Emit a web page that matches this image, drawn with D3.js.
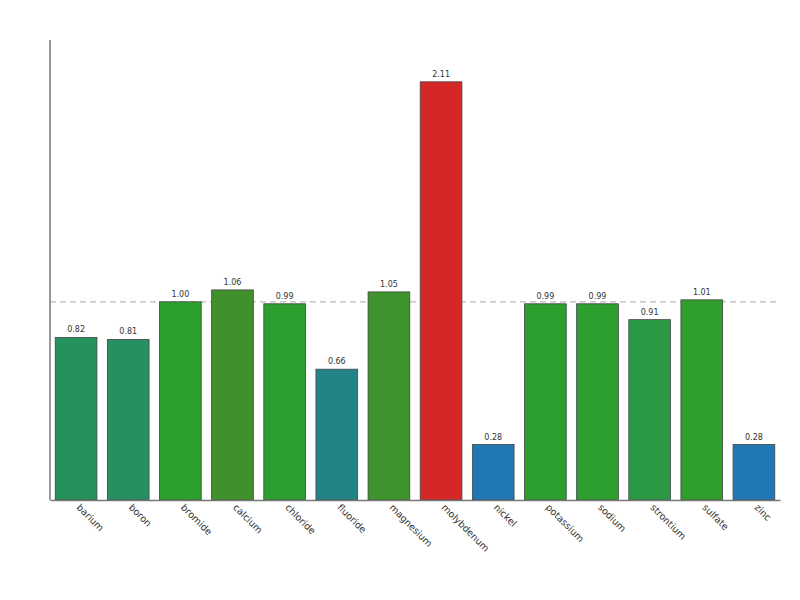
<!DOCTYPE html>
<html>
<head>
<meta charset="utf-8">
<script src="https://cdn.jsdelivr.net/npm/d3@7"></script>
<style>
  body { margin: 0; background: #fff; }
  text { font-family: "DejaVu Sans", sans-serif; fill: #333; }
</style>
</head>
<body>
<svg id="chart" width="800" height="600"></svg>
<script>
var categories = ["barium", "boron", "bromide", "calcium", "chloride", "fluoride", "magnesium",
                  "molybdenum", "nickel", "potassium", "sodium", "strontium", "sulfate", "zinc"];
var values = [0.82, 0.81, 1.00, 1.06, 0.99, 0.66, 1.05, 2.11, 0.28, 0.99, 0.99, 0.91, 1.01, 0.28];
var refValue = 1.0;

var svg = d3.select("#chart"),
    margin = {top: 40, right: 20, bottom: 100, left: 50},
    width = 800 - margin.left - margin.right,
    height = 600 - margin.top - margin.bottom,
    g = svg.append("g")
      .attr("transform", "translate(" + margin.left + "," + margin.top + ")");

var x = d3.scaleBand()
    .domain(categories)
    .range([0, width])
    .paddingInner(0.2)
    .paddingOuter(0.1);

var y = d3.scaleLinear()
    .domain([0, d3.max(values) * 1.1])
    .range([height, 0]);

// blue below 1, green at 1, red above
var color = d3.scaleLinear()
    .domain([0.5, 1, 1.5])
    .range(["#1f77b4", "#2ca02c", "#d62728"])
    .clamp(true);

// reference line
g.append("line")
    .attr("x1", 0).attr("x2", width)
    .attr("y1", y(refValue)).attr("y2", y(refValue))
    .attr("stroke", "#bbb")
    .attr("stroke-width", 1.2)
    .attr("stroke-dasharray", "6,4");

var data = categories.map(function(c, i) { return {name: c, value: values[i]}; });

g.selectAll(".bar")
    .data(data)
    .enter().append("rect")
    .attr("class", "bar")
    .attr("x", function(d) { return x(d.name); })
    .attr("width", x.bandwidth())
    .attr("y", function(d) { return y(d.value); })
    .attr("height", function(d) { return height - y(d.value); })
    .attr("fill", function(d) { return color(d.value); })
    .attr("stroke", "#444")
    .attr("stroke-width", 0.8);

g.selectAll(".vlabel")
    .data(data)
    .enter().append("text")
    .attr("class", "vlabel")
    .attr("x", function(d) { return x(d.name) + x.bandwidth() / 2; })
    .attr("y", function(d) { return y(d.value) - 5; })
    .attr("text-anchor", "middle")
    .style("font-size", "8px")
    .text(function(d) { return d.value.toFixed(2); });

// axes
var xAxis = g.append("g")
    .attr("transform", "translate(0," + height + ")")
    .call(d3.axisBottom(x).tickSize(0).tickPadding(0));
xAxis.select(".domain").attr("stroke", "#777").attr("stroke-width", 1.5);
xAxis.selectAll("text")
    .attr("y", 0)
    .attr("dy", 0)
    .attr("text-anchor", "start")
    .attr("transform", "translate(0,8) rotate(45)")
    .style("font-size", "9.5px")
    .style("fill", "#333");

g.append("line")
    .attr("x1", 0).attr("x2", 0)
    .attr("y1", 0).attr("y2", height)
    .attr("stroke", "#777")
    .attr("stroke-width", 1.5);
</script>
</body>
</html>
